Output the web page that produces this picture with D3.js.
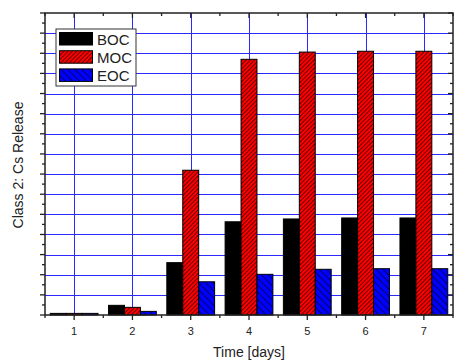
<!DOCTYPE html>
<html>
<head>
<meta charset="utf-8">
<script src="https://cdn.jsdelivr.net/npm/d3@7"></script>
<style>
  body { margin: 0; background: #fff; }
  svg { display: block; font-family: "Liberation Sans", Arial, sans-serif; }
</style>
</head>
<body>
<div id="chart"></div>
<script>
// data
const days = [1, 2, 3, 4, 5, 6, 7]
const series = ['BOC', 'MOC', 'EOC']
const boc = [0.08, 0.48, 2.6, 4.63, 4.77, 4.82, 4.82]
const moc = [0.08, 0.38, 7.19, 12.7, 13.06, 13.1, 13.1]
const eoc = [0.08, 0.18, 1.65, 2.02, 2.27, 2.3, 2.3]
const values = { BOC: boc, MOC: moc, EOC: eoc }

const width = 456
const height = 360
const margin = { top: 13, right: 3, bottom: 45, left: 45 }

const svg = d3.select('#chart').append('svg')
    .attr('width', width)
    .attr('height', height)

// fills: solid black, red with / hatch, blue with \ hatch
const defs = svg.append('defs')
let pRed = defs.append('pattern')
    .attr('id', 'hatchRed')
    .attr('patternUnits', 'userSpaceOnUse')
    .attr('width', 3).attr('height', 3)
    .attr('patternTransform', 'rotate(45)')
pRed.append('rect').attr('width', 3).attr('height', 3).attr('fill', '#ff0000')
pRed.append('line').attr('x1', 0).attr('y1', 0).attr('x2', 0).attr('y2', 3)
    .attr('stroke', '#000').attr('stroke-width', 1.2)

let pBlue = defs.append('pattern')
    .attr('id', 'hatchBlue')
    .attr('patternUnits', 'userSpaceOnUse')
    .attr('width', 5).attr('height', 5)
    .attr('patternTransform', 'rotate(-45)')
pBlue.append('rect').attr('width', 5).attr('height', 5).attr('fill', '#0000ff')
pBlue.append('line').attr('x1', 0).attr('y1', 0).attr('x2', 0).attr('y2', 5)
    .attr('stroke', '#000').attr('stroke-width', 1.2)

const fills = { BOC: '#000', MOC: 'url(#hatchRed)', EOC: 'url(#hatchBlue)' }

const x = d3.scaleLinear()
    .domain([0.5, 7.5])
    .range([margin.left, width - margin.right])
const y = d3.scaleLinear()
    .domain([0, 15])
    .range([height - margin.bottom, margin.top])

const groupW = x(0.82) - x(0)
const inner = d3.scaleBand()
    .domain(series)
    .range([-groupW / 2, groupW / 2])

const x0 = margin.left, x1 = width - margin.right
const y0 = height - margin.bottom, y1 = margin.top

// grid
let grid = svg.append('g').attr('stroke', '#2a2aff').attr('stroke-width', 1)
grid.selectAll('.hg')
    .data(d3.range(1, 15))
    .enter()
    .append('line')
    .attr('x1', x0).attr('x2', x1)
    .attr('y1', d => Math.round(y(d)) + 0.5)
    .attr('y2', d => Math.round(y(d)) + 0.5)
grid.selectAll('.vg')
    .data(days)
    .enter()
    .append('line')
    .attr('y1', y0).attr('y2', y1)
    .attr('x1', d => Math.round(x(d)) + 0.5)
    .attr('x2', d => Math.round(x(d)) + 0.5)

// bars
let bars = svg.append('g')
series.forEach(s => {
    bars.append('g')
        .selectAll('rect')
        .data(days)
        .enter()
        .append('rect')
        .attr('x', (d) => x(d) + inner(s))
        .attr('width', inner.bandwidth())
        .attr('y', (d, i) => y(values[s][i]))
        .attr('height', (d, i) => y(0) - y(values[s][i]))
        .attr('fill', fills[s])
        .attr('stroke', '#000')
        .attr('stroke-width', 1)
})

// axes
const majorY = d3.range(0, 16)
const minorY = d3.range(0.5, 15, 1)
const majorX = days
const minorX = d3.range(0.5, 8, 1)

let axisG = svg.append('g').attr('stroke', '#222')

function ticks(data, fn, len) {
    axisG.append('g')
        .selectAll('line')
        .data(data)
        .enter()
        .append('line')
        .attr('stroke-width', 1.3)
        .each(function (d) { fn(d3.select(this), d, len) })
}
// left: outward
ticks(majorY, (el, d, l) => el.attr('x1', x0 - l).attr('x2', x0).attr('y1', y(d)).attr('y2', y(d)), 5)
ticks(minorY, (el, d, l) => el.attr('x1', x0 - l).attr('x2', x0).attr('y1', y(d)).attr('y2', y(d)), 3)
// right: inward
ticks(majorY, (el, d, l) => el.attr('x1', x1 - l).attr('x2', x1).attr('y1', y(d)).attr('y2', y(d)), 5)
ticks(minorY, (el, d, l) => el.attr('x1', x1 - l).attr('x2', x1).attr('y1', y(d)).attr('y2', y(d)), 3)
// bottom: outward
ticks(majorX, (el, d, l) => el.attr('x1', x(d)).attr('x2', x(d)).attr('y1', y0).attr('y2', y0 + l), 5)
ticks(minorX, (el, d, l) => el.attr('x1', x(d)).attr('x2', x(d)).attr('y1', y0).attr('y2', y0 + l), 3)
// top: inward
ticks(majorX, (el, d, l) => el.attr('x1', x(d)).attr('x2', x(d)).attr('y1', y1).attr('y2', y1 + l), 5)
ticks(minorX, (el, d, l) => el.attr('x1', x(d)).attr('x2', x(d)).attr('y1', y1).attr('y2', y1 + l), 3)

axisG.append('rect')
    .attr('x', x0).attr('y', y1)
    .attr('width', x1 - x0).attr('height', y0 - y1)
    .attr('fill', 'none')
    .attr('stroke-width', 1.5)

// tick labels
svg.append('g')
    .selectAll('text')
    .data(days)
    .enter()
    .append('text')
    .attr('x', d => x(d))
    .attr('y', y0 + 20)
    .attr('text-anchor', 'middle')
    .attr('font-size', 11)
    .attr('fill', '#222')
    .text(d => d)

svg.append('text')
    .attr('x', (x0 + x1) / 2)
    .attr('y', 357)
    .attr('text-anchor', 'middle')
    .attr('font-size', 14)
    .attr('fill', '#222')
    .text('Time [days]')

svg.append('text')
    .attr('transform', `translate(23,${165}) rotate(-90)`)
    .attr('text-anchor', 'middle')
    .attr('font-size', 14)
    .attr('fill', '#222')
    .text('Class 2: Cs Release')

// legend
let legend = svg.append('g').attr('transform', 'translate(56,29)')
legend.append('rect')
    .attr('width', 80).attr('height', 57)
    .attr('fill', '#fff')
    .attr('stroke', '#333')
    .attr('stroke-width', 1)
let item = legend.selectAll('.item')
    .data(series)
    .enter()
    .append('g')
    .attr('transform', (d, i) => `translate(3.5,${3.5 + i * 18.2})`)
item.append('rect')
    .attr('width', 33).attr('height', 12.5)
    .attr('fill', d => fills[d])
    .attr('stroke', '#000')
item.append('text')
    .attr('x', 37.5)
    .attr('y', 12)
    .attr('font-size', 15)
    .attr('fill', '#222')
    .text(d => d)
</script>
</body>
</html>
